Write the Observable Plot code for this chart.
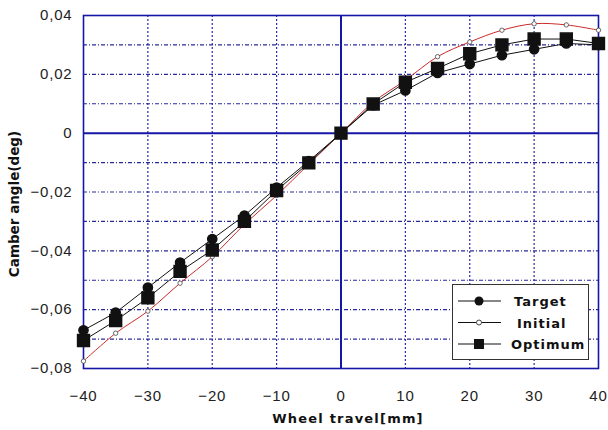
<!DOCTYPE html>
<html><head><meta charset="utf-8">
<script src="https://cdn.jsdelivr.net/npm/d3@7"></script>
<script src="https://cdn.jsdelivr.net/npm/@observablehq/plot@0.6"></script>
<style>
body{margin:0;background:#fff;}
#wrap{position:relative;width:608px;height:430px;font-family:"Liberation Sans",Arial,sans-serif;}
#legend{position:absolute;left:452px;top:284px;width:137px;height:76px;border:1.5px solid #333;background:#fff;box-sizing:border-box;}
#legend svg{position:absolute;left:0;top:0;}
#chart g[aria-label="x-axis tick label"] text, #chart g[aria-label="y-axis tick label"] text{letter-spacing:0.8px;}
</style>
</head><body>
<div id="wrap"><div id="chart"></div><div id="legend"></div></div>
<script>
const travel = [-40,-35,-30,-25,-20,-15,-10,-5,0,5,10,15,20,25,30,35,40];
const target = [-0.067,-0.061,-0.0525,-0.044,-0.036,-0.028,-0.0185,-0.0095,0,0.0095,0.0145,0.0205,0.0235,0.0265,0.0285,0.0305,0.030];
const initial = [-0.0775,-0.068,-0.0605,-0.051,-0.042,-0.031,-0.0212,-0.0105,0,0.0105,0.018,0.026,0.031,0.035,0.0372,0.0368,0.035];
const optimum = [-0.0705,-0.0637,-0.056,-0.047,-0.0397,-0.030,-0.0195,-0.0101,0,0.0099,0.0173,0.022,0.027,0.030,0.032,0.032,0.0305];
const xTicks = [-40,-30,-20,-10,0,10,20,30,40];
const yTicks = [-0.08,-0.06,-0.04,-0.02,0,0.02,0.04];
const xGrid = [-30,-20,-10,10,20,30];
const yGrid = [-0.07,-0.06,-0.05,-0.04,-0.03,-0.02,-0.01,0.01,0.02,0.03];
const seriesNames = ["Target","Initial","Optimum"];

const rows = (vals) => travel.map((t,i)=>({x:t,y:vals[i]}));
const blue = "#1616a6";
const gridBlue = "#2a2aa0";
const fmtY = d => d === 0 ? "0" : (d<0?"\u2212":"") + Math.abs(d).toFixed(2).replace(".", ",");
const fmtX = d => (d<0?"\u2212":"") + Math.abs(d);

const chart = Plot.plot({
  width: 608, height: 430,
  marginLeft: 83, marginRight: 10, marginTop: 15, marginBottom: 62,
  style: {fontFamily: "'Liberation Sans', Arial, sans-serif", fontSize: "15px", color: "#222", background: "#fff"},
  x: {domain: [-40, 40]},
  y: {domain: [-0.08, 0.04]},
  marks: [
    Plot.ruleX(xGrid, {stroke: gridBlue, strokeWidth: 1.2, strokeDasharray: "2,2"}),
    Plot.ruleY(yGrid, {stroke: gridBlue, strokeWidth: 1.2, strokeDasharray: "4,2,1,2"}),
    Plot.ruleX([0], {stroke: blue, strokeWidth: 2}),
    Plot.ruleY([0], {stroke: blue, strokeWidth: 2}),
    Plot.frame({stroke: blue, strokeWidth: 1.6}),
    Plot.axisX(xTicks, {tickSize: 0, tickPadding: 22, tickFormat: fmtX, label: null, fontSize: 15}),
    Plot.axisY(yTicks, {tickSize: 0, tickPadding: 11, tickFormat: fmtY, label: null, fontSize: 15}),
    Plot.line(rows(initial), {x: "x", y: "y", stroke: "#cc2a2a", strokeWidth: 1, curve: "catmull-rom"}),
    Plot.line(rows(target), {x: "x", y: "y", stroke: "#111", strokeWidth: 1}),
    Plot.line(rows(optimum), {x: "x", y: "y", stroke: "#111", strokeWidth: 1}),
    Plot.dot(rows(initial), {x: "x", y: "y", r: 2.2, fill: "#fff", stroke: "#444", strokeWidth: 0.8}),
    Plot.dot(rows(target), {x: "x", y: "y", r: 4.6, fill: "#111", stroke: "#111"}),
    Plot.dot(rows(optimum), {x: "x", y: "y", r: 6.7, symbol: "square", fill: "#111", stroke: "#111"})
  ]
});
document.getElementById("chart").appendChild(chart);

const svg = d3.select(chart);
svg.append("text").attr("transform", "translate(19,204) rotate(-90)")
  .attr("text-anchor", "middle").attr("font-weight", "bold").attr("font-size", 13.5)
  .attr("font-family", "'DejaVu Sans', sans-serif").attr("fill", "#111")
  .text("Camber angle(deg)");
svg.append("text").attr("x", 348).attr("y", 423)
  .attr("text-anchor", "middle").attr("font-weight", "bold").attr("font-size", 13)
  .attr("font-family", "'DejaVu Sans', sans-serif").attr("fill", "#111").attr("letter-spacing", 1.2)
  .text("Wheel travel[mm]");

// legend
const lg = d3.select("#legend").append("svg").attr("width", 137).attr("height", 76);
seriesNames.forEach((name, i) => {
  const cy = 16 + i * 21.5;
  lg.append("line").attr("x1", 5).attr("x2", 48).attr("y1", cy).attr("y2", cy).attr("stroke", "#111").attr("stroke-width", 1.2);
  if (name === "Target") lg.append("circle").attr("cx", 26).attr("cy", cy).attr("r", 4.5).attr("fill", "#111");
  if (name === "Initial") lg.append("circle").attr("cx", 26).attr("cy", cy).attr("r", 2.5).attr("fill", "#fff").attr("stroke", "#333").attr("stroke-width", 0.9);
  if (name === "Optimum") lg.append("rect").attr("x", 21).attr("y", cy - 5).attr("width", 10).attr("height", 10).attr("fill", "#111");
  lg.append("text").attr("x", name === "Optimum" ? 58 : (name === "Initial" ? 64 : 61)).attr("y", cy + 5)
    .attr("font-weight", "bold").attr("font-size", 13).attr("letter-spacing", 1)
    .attr("font-family", "'DejaVu Sans', sans-serif").attr("fill", "#111").text(name);
});
</script>
</body></html>
